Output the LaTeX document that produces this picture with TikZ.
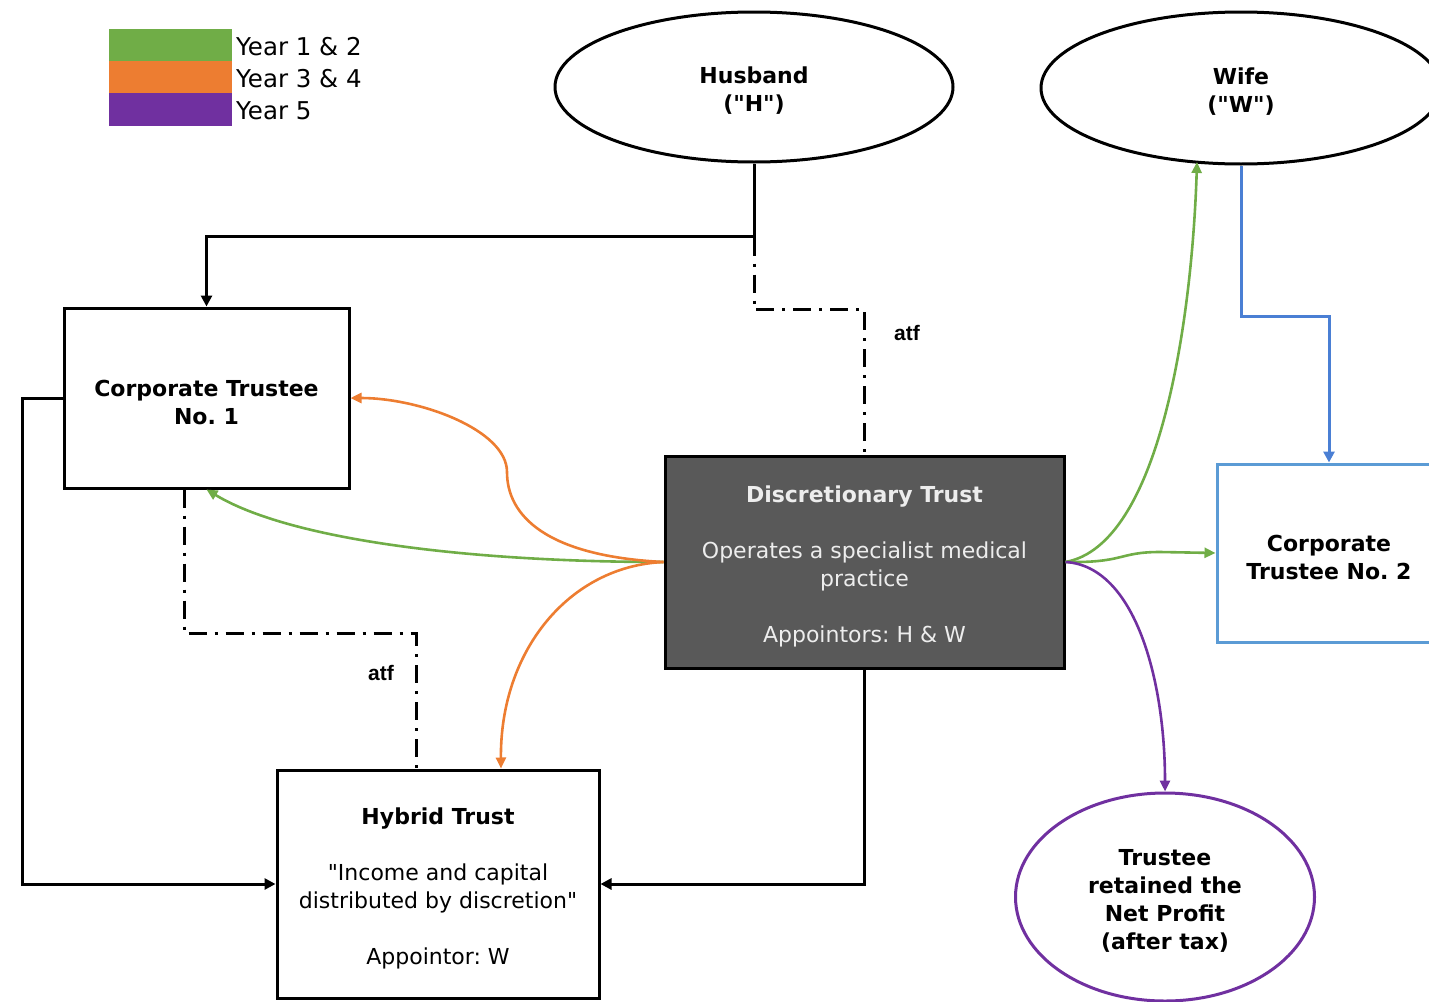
\documentclass[tikz,border=0pt]{standalone}
\usepackage{fontspec}
\setmainfont{DejaVu Sans}
\newfontfamily\atffont{Liberation Sans}
\usetikzlibrary{shapes.geometric,arrows.meta,calc}
\frenchspacing

\definecolor{yrgreen}{HTML}{70AD47}
\definecolor{yrorange}{HTML}{ED7D31}
\definecolor{yrpurple}{HTML}{7030A0}
\definecolor{ctblue}{HTML}{5B9BD5}
\definecolor{lnblue}{HTML}{4A7FD4}
\definecolor{dtgray}{HTML}{595959}

\newcommand{\dq}{\textquotedbl}

\tikzset{
  txt/.style={font=\fontsize{22}{28}\selectfont, align=center, yshift=-4pt},
  blackbox/.style={draw=black, line width=3pt, inner sep=0pt},
  ell/.style={ellipse, draw=black, line width=3pt, inner sep=0pt},
  conn/.style={line width=3pt, -{Triangle[length=11pt,width=11pt]}},
  dashdot/.style={line width=3pt, dash pattern=on 18pt off 8pt on 3pt off 8pt},
  flow/.style={line width=2.6pt, -{Triangle[length=11pt,width=10pt]}},
  atflbl/.style={font=\atffont\bfseries\fontsize{21}{24}\selectfont},
  legtext/.style={anchor=west, inner sep=0pt, font=\fontsize{24.5}{30}\selectfont}
}

\begin{document}
\begin{tikzpicture}[x=1pt,y=-1pt]
\useasboundingbox (0,0) rectangle (1429,1001);

% legend
\fill[yrgreen]  (109,29) rectangle (232,61);
\fill[yrorange] (109,61) rectangle (232,93);
\fill[yrpurple] (109,93) rectangle (232,126);
\node[legtext] (lg1) at (236,47)  {Year 1 \& 2};
\node[legtext] (lg2) at (236,79)  {Year 3 \& 4};
\node[legtext] (lg3) at (236,111) {Year 5};

% parties
\node[ell, minimum width=398pt, minimum height=150pt,
  label={[txt]center:{\bfseries Husband\\\bfseries (\dq H\dq)}}] (H) at (754,87) {};
\node[ell, minimum width=400pt, minimum height=152pt,
  label={[txt]center:{\bfseries Wife\\\bfseries (\dq W\dq)}}] (W) at (1241,88) {};

% trustees and trusts
\node[blackbox, minimum width=285pt, minimum height=180pt,
  label={[txt]center:{\bfseries Corporate Trustee\\\bfseries No. 1}}] (CT1) at (206.5,398) {};
\node[blackbox, fill=dtgray, minimum width=399pt, minimum height=212pt,
  label={[txt, text=white!93!black]center:{\bfseries Discretionary Trust\\[28pt]Operates a specialist medical\\practice\\[28pt]Appointors: H \& W}}] (DT) at (864.5,562) {};
\node[draw=ctblue, line width=3pt, inner sep=0pt, minimum width=224pt, minimum height=178pt,
  label={[txt]center:{\bfseries Corporate\\\bfseries Trustee No. 2}}] (CT2) at (1329,553) {};
\node[blackbox, minimum width=322pt, minimum height=228pt,
  label={[txt]center:{\bfseries Hybrid Trust\\[28pt]\dq Income and capital\\distributed by discretion\dq\\[28pt]Appointor: W}}] (HT) at (438,884) {};
\node[ellipse, draw=yrpurple, line width=3pt, inner sep=0pt, minimum width=299pt, minimum height=208pt,
  label={[txt]center:{\bfseries Trustee\\\bfseries retained the\\\bfseries Net Profit\\\bfseries (after tax)}}] (TR) at (1165,897) {};

% trustee-for links
\draw[dashdot] (H.south) -- ++(0,146) -| (DT.north);
\node[atflbl] (atf1) at (907,333) {atf};
\draw[dashdot] ([xshift=-22pt]CT1.south) -- ++(0,144) -| ([xshift=-22pt]HT.north);
\node[atflbl] (atf2) at (381,673) {atf};

% ownership links
\draw[conn] (H.south) -- ++(0,73) -| (CT1.north);
\draw[conn] (CT1.west) -- ++(-40,0) |- (HT.west);
\draw[conn] (DT.south) |- (HT.east);
\draw[line width=3pt, draw=lnblue, -{Triangle[length=11pt,width=11pt]}] (W.south) -- ++(0,151) -| (CT2.north);

% distributions, years 1 & 2
\coordinate (wtip) at (1197,162);
\draw[flow, yrgreen] (DT.west) .. controls (470,562) and (290,540) .. (CT1.south);
\draw[flow, yrgreen] (DT.east) .. controls (1160,545) and (1192,320) .. (wtip);
\draw[flow, yrgreen] (DT.east) .. controls (1125,563) and (1118,552) .. (1160,552) -- (CT2.west);

% distributions, years 3 & 4
\draw[flow, yrorange] (DT.west) .. controls (545,556) and (507,515) .. (507,472)
  .. controls (507,430) and (420,398) .. (CT1.east);
\draw[flow, yrorange] (DT.west) .. controls (570,566) and (500,650) .. ([xshift=63pt]HT.north);

% year 5
\draw[flow, yrpurple] (DT.east) .. controls (1135,566) and (1165,680) .. (TR.north);
\end{tikzpicture}
\end{document}
